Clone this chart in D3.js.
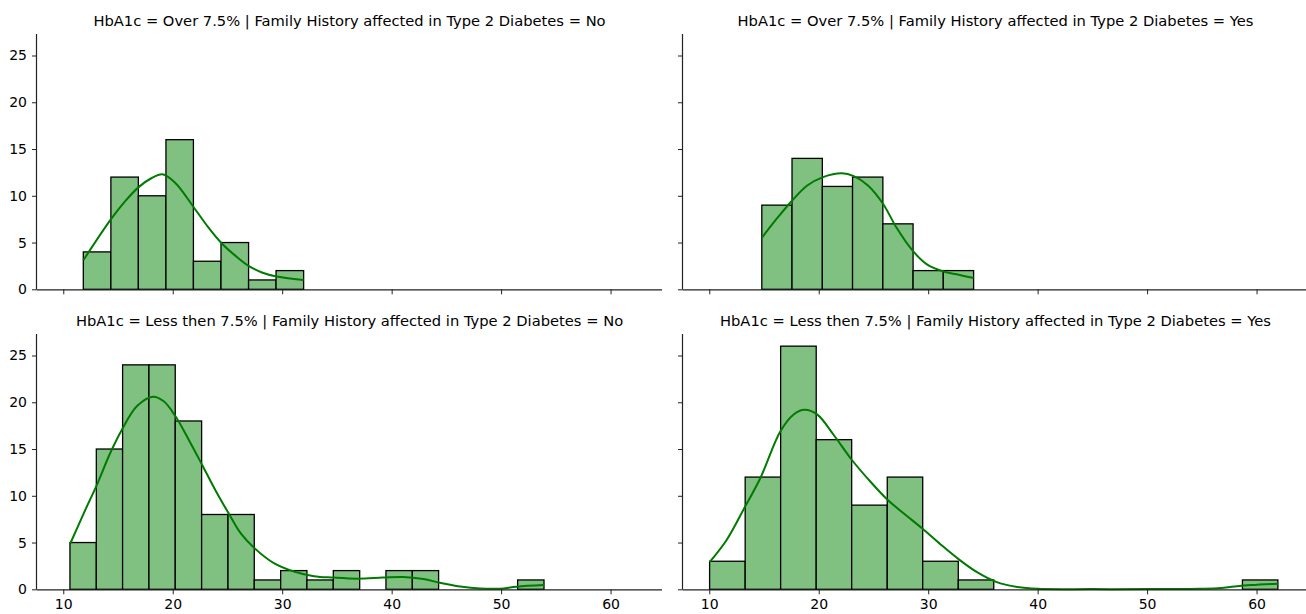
<!DOCTYPE html>
<html>
<head>
<meta charset="utf-8">
<script src="https://cdn.jsdelivr.net/npm/d3@7"></script>
<style>
  body { margin: 0; background: #fff; }
  svg text { font-family: "DejaVu Sans", sans-serif; fill: #000; }
</style>
</head>
<body>
<div id="chart"></div>
<script>
// facet titles
var titles = [
  "HbA1c = Over 7.5% | Family History affected in Type 2 Diabetes = No",
  "HbA1c = Over 7.5% | Family History affected in Type 2 Diabetes = Yes",
  "HbA1c = Less then 7.5% | Family History affected in Type 2 Diabetes = No",
  "HbA1c = Less then 7.5% | Family History affected in Type 2 Diabetes = Yes"
];

// histogram bin edges and counts
var edgesOverNo = [11.83, 14.35, 16.86, 19.38, 21.89, 24.41, 26.93, 29.44, 31.96];
var countsOverNo = [4, 12, 10, 16, 3, 5, 1, 2];

var edgesOverYes = [14.80, 17.56, 20.33, 23.09, 25.86, 28.62, 31.38, 34.15];
var countsOverYes = [9, 14, 11, 12, 7, 2, 2];

var edgesLessNo = [10.61, 13.02, 15.42, 17.83, 20.23, 22.64, 25.05, 27.45, 29.86, 32.26,
                   34.67, 37.08, 39.48, 41.89, 44.29, 46.70, 49.11, 51.51, 53.92];
var countsLessNo = [5, 15, 24, 24, 18, 8, 8, 1, 2, 1, 2, 0, 2, 2, 0, 0, 0, 1];

var edgesLessYes = [10.03, 13.28, 16.52, 19.77, 23.01, 26.26, 29.50, 32.75, 35.99, 39.24,
                    42.48, 45.73, 48.97, 52.22, 55.46, 58.71, 61.95];
var countsLessYes = [3, 12, 26, 16, 9, 12, 3, 1, 0, 0, 0, 0, 0, 0, 0, 1];

// kde curves (x, count)
var kdeOverNo = [[11.83,3.1],[14.36,7.5],[15.64,9.4],[16.86,10.9],[18.08,11.9],[19.06,12.3],
  [20.22,11.4],[21.9,8.8],[23.27,6.6],[24.49,4.9],[25.71,3.6],[26.93,2.5],[28.15,1.8],
  [29.37,1.4],[31.96,1.0]];
var kdeOverYes = [[14.8,5.5],[16.2,7.6],[17.58,9.5],[18.95,11.1],[20.4,12.0],[22.13,12.4],[23.2,12.1],
  [24.5,11.1],[25.9,9.1],[27.1,6.6],[28.6,4.1],[29.85,2.7],[31.4,1.9],[32.6,1.6],[34.15,1.2]];
var kdeLessNo = [[10.64,4.9],[11.86,8.1],[13.08,11.2],[14.3,14.6],[15.37,17.1],[16.74,19.6],
  [18.2,20.6],[19.18,20.1],[20.25,18.5],[21.46,16.0],[22.69,13.3],[23.9,10.6],[25.12,8.1],
  [26.2,6.0],[27.47,4.4],[29.24,2.8],[31.07,1.9],[32.9,1.4],[34.66,1.25],[36.9,1.14],
  [39.2,1.25],[41.06,1.32],[42.9,1.1],[44.4,0.7],[46.25,0.3],[48.1,0.08],[49.9,0.07],
  [51.4,0.28],[53.92,0.45]];
var kdeLessYes = [[10.03,2.9],[11.6,5.3],[13.3,8.9],[14.67,11.9],[16.5,16.9],[17.71,18.7],
  [18.7,19.2],[19.85,18.7],[21.37,16.5],[23.05,13.8],[24.73,11.5],[26.26,9.6],[27.78,8.1],
  [29.46,6.5],[31.13,4.8],[32.8,3.2],[34.5,1.8],[36.2,0.8],
  [38.15,0.25],[40,0.05],[45,0.02],[50,0.02],[54,0.04],[56.4,0.1],[58,0.3],[59.5,0.45],
  [61.95,0.6]];

var xTicks = [10, 20, 30, 40, 50, 60];
var yTicks = [0, 5, 10, 15, 20, 25];

var width = 1306, height = 614;
var xDomain = [7.6, 64.7];
var yDomain = [0, 27.3];

// panel placement
var panels = [
  { title: titles[0], edges: edgesOverNo,  counts: countsOverNo,  kde: kdeOverNo,  left: 37,  right: 662,  top: 34,  bottom: 289.3, xLabels: false, yLabels: true },
  { title: titles[1], edges: edgesOverYes, counts: countsOverYes, kde: kdeOverYes, left: 683, right: 1308, top: 34,  bottom: 289.3, xLabels: false, yLabels: false },
  { title: titles[2], edges: edgesLessNo,  counts: countsLessNo,  kde: kdeLessNo,  left: 37,  right: 662,  top: 334, bottom: 589.3, xLabels: true,  yLabels: true },
  { title: titles[3], edges: edgesLessYes, counts: countsLessYes, kde: kdeLessYes, left: 683, right: 1308, top: 334, bottom: 589.3, xLabels: true,  yLabels: false }
];

var svg = d3.select('#chart')
            .append('svg')
            .attr('width', width)
            .attr('height', height);

panels.forEach(function(p) {
    var xScale = d3.scaleLinear().domain(xDomain).range([p.left, p.right]);
    var yScale = d3.scaleLinear().domain(yDomain).range([p.bottom, p.top]);
    var g = svg.append('g');

    // bars
    var bins = p.counts.map(function(c, i) { return { x0: p.edges[i], x1: p.edges[i + 1], n: c }; })
                       .filter(function(b) { return b.n > 0; });
    g.selectAll('rect')
      .data(bins)
      .enter()
      .append('rect')
      .attr('x', function(d) { return xScale(d.x0); })
      .attr('y', function(d) { return yScale(d.n); })
      .attr('width', function(d) { return xScale(d.x1) - xScale(d.x0); })
      .attr('height', function(d) { return yScale(0) - yScale(d.n); })
      .attr('fill', '#80c080')
      .attr('stroke', '#000')
      .attr('stroke-width', 1.3);

    // kde line
    var line = d3.line()
                 .x(function(d) { return xScale(d[0]); })
                 .y(function(d) { return yScale(Math.max(0, d[1])); })
                 .curve(d3.curveCatmullRom.alpha(0.5));
    g.append('path')
      .attr('d', line(p.kde))
      .attr('fill', 'none')
      .attr('stroke', '#007a00')
      .attr('stroke-width', 2);

    // axes
    var xAxis = d3.axisBottom(xScale).tickValues(xTicks).tickSize(5).tickPadding(5)
                  .tickFormat(p.xLabels ? d3.format('d') : '');
    var yAxis = d3.axisLeft(yScale).tickValues(yTicks).tickSize(5).tickPadding(5)
                  .tickFormat(p.yLabels ? d3.format('d') : '');

    var gx = g.append('g')
      .attr('transform', 'translate(0,' + p.bottom + ')')
      .call(xAxis);
    var gy = g.append('g')
      .attr('transform', 'translate(' + p.left + ',0)')
      .call(yAxis);

    [gx, gy].forEach(function(a) {
        a.select('.domain').attr('stroke', '#222').attr('stroke-width', 1.2);
        a.selectAll('.tick line').attr('stroke', '#222').attr('stroke-width', 1);
        a.selectAll('.tick text').attr('font-size', 14).attr('font-family', 'DejaVu Sans').attr('fill', '#000');
    });
    // no outer tick stubs on spine ends
    gx.select('.domain').attr('d', 'M' + p.left + ',0.5H' + p.right);
    gy.select('.domain').attr('d', 'M-0.5,' + p.bottom + 'V' + p.top);

    // title
    g.append('text')
      .attr('x', (p.left + p.right) / 2)
      .attr('y', p.top - 8)
      .attr('text-anchor', 'middle')
      .attr('font-size', 14.7)
      .text(p.title);
});
</script>
</body>
</html>
